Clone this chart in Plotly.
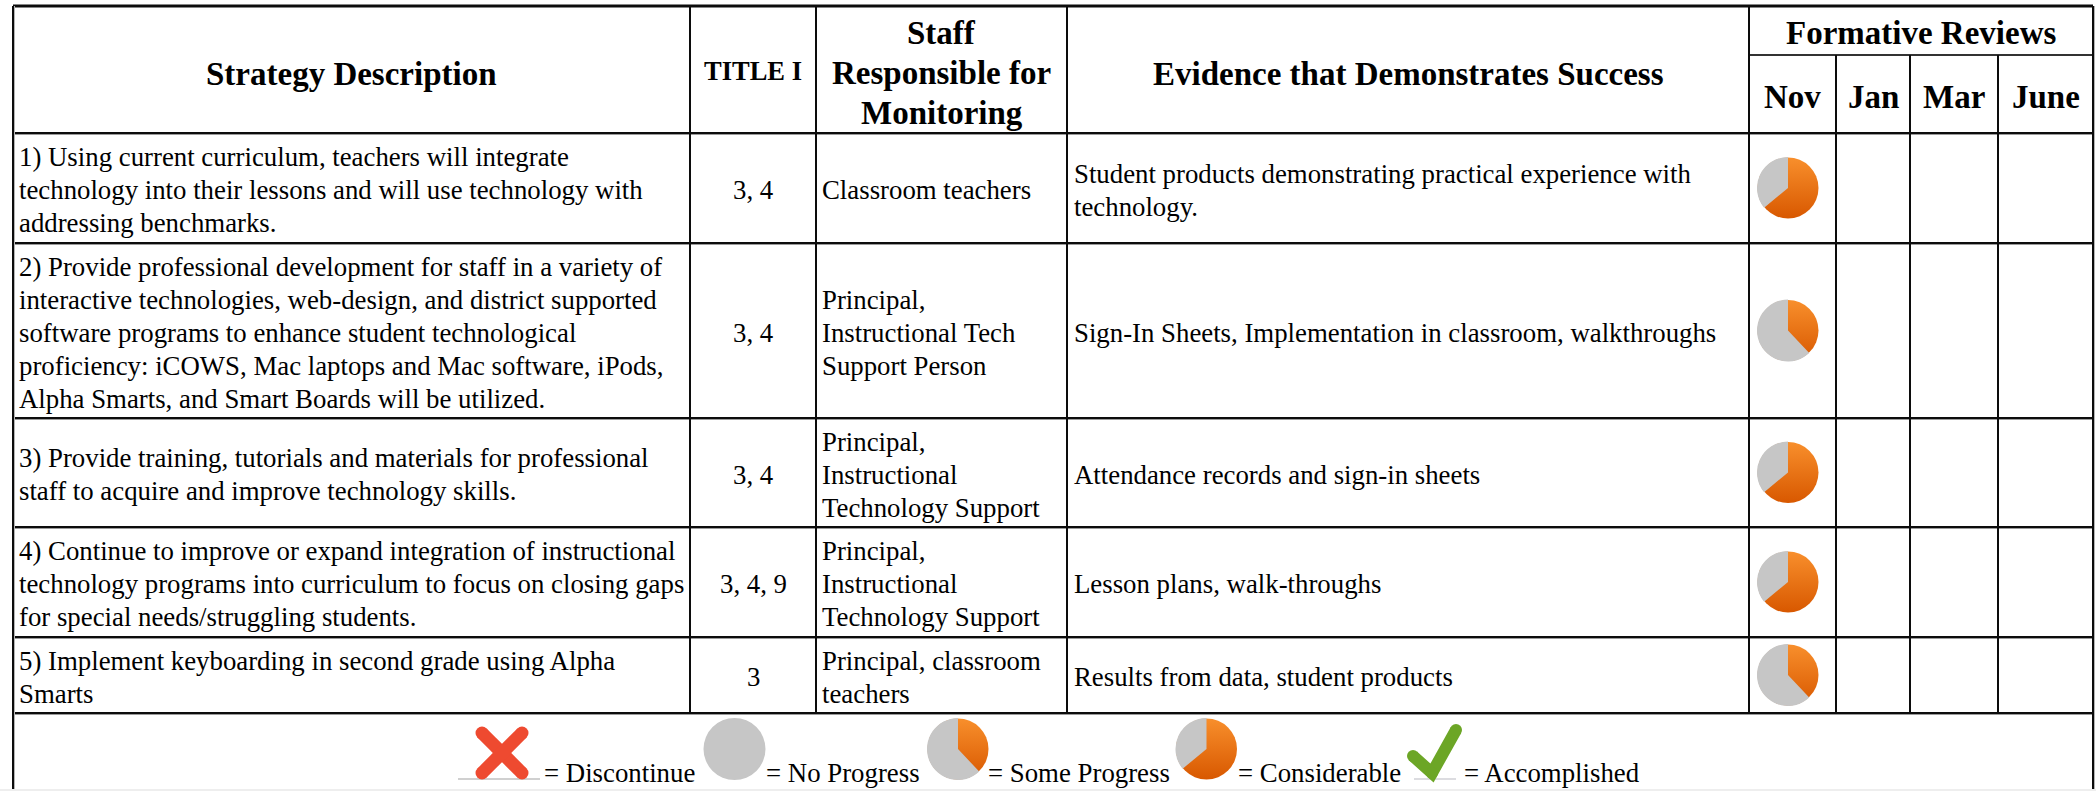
import plotly.graph_objects as go

# ---------- content ----------
header_strategy = "Strategy Description"
header_title = "TITLE I"
header_staff = "Staff<br>Responsible for<br>Monitoring"
header_evidence = "Evidence that Demonstrates Success"
header_reviews = "Formative Reviews"
months = ["Nov", "Jan", "Mar", "June"]

strategies = [
    "1) Using current curriculum, teachers will integrate<br>technology into their lessons and will use technology with<br>addressing benchmarks.",
    "2) Provide professional development for staff in a variety of<br>interactive technologies, web-design, and district supported<br>software programs to enhance student technological<br>proficiency: iCOWS, Mac laptops and Mac software, iPods,<br>Alpha Smarts, and Smart Boards will be utilized.",
    "3) Provide training, tutorials and materials for professional<br>staff to acquire and improve technology skills.",
    "4) Continue to improve or expand integration of instructional<br>technology programs into curriculum to focus on closing gaps<br>for special needs/struggling students.",
    "5) Implement keyboarding in second grade using Alpha<br>Smarts",
]
title_one = ["3, 4", "3, 4", "3, 4", "3, 4, 9", "3"]
staff = [
    "Classroom teachers",
    "Principal,<br>Instructional Tech<br>Support Person",
    "Principal,<br>Instructional<br>Technology Support",
    "Principal,<br>Instructional<br>Technology Support",
    "Principal, classroom<br>teachers",
]
evidence = [
    "Student products demonstrating practical experience with<br>technology.",
    "Sign-In Sheets, Implementation in classroom, walkthroughs",
    "Attendance records and sign-in sheets",
    "Lesson plans, walk-throughs",
    "Results from data, student products",
]
nov_progress = [64, 38, 64, 64, 38]

legend_labels = ["= Discontinue", "= No Progress", "= Some Progress", "= Considerable", "= Accomplished"]
legend_progress = [None, 0, 38, 64, None]

# ---------- page layout (pixels of the 2096x791 page) ----------
W, H = 2096, 791
COLS = [13, 690, 816, 1067, 1749, 1836, 1910, 1998, 2093]
ROWS = [133, 243, 418, 527, 637, 713]
TOP, SUB, BOTTOM = 6, 55, 789
PIE_D = 62
SERIF = "Liberation Serif"
INK = "#000000"
BODY = 26.8
HEAD = 33
BODY_PITCH = 33
HEAD_PITCH = 40
LEGEND_X = [543, 765, 987, 1237, 1463]
LEGEND_PIE_X = [None, 734.5, 958, 1206.5, None]
LEGEND_PIE_Y = 749
LEGEND_TEXT_Y = 773

fig = go.Figure()
shapes, notes = [], []


def line(x0, y0, x1, y1, w=2, c="#0c0c0c"):
    shapes.append(dict(type="line", xref="x", yref="y", x0=x0, y0=y0, x1=x1, y1=y1,
                       line=dict(color=c, width=w), layer="below"))


def note(text, x, y, size=BODY, bold=False, anchor="left", pitch=BODY_PITCH):
    parts = text.split("<br>")
    for k, part in enumerate(parts):
        notes.append(dict(text=f"<b>{part}</b>" if bold else part, x=x,
                          y=y + (k - (len(parts) - 1) / 2) * pitch,
                          xref="x", yref="y", showarrow=False, xanchor=anchor,
                          yanchor="middle", align=anchor, borderpad=0,
                          font=dict(family=SERIF, size=size, color=INK)))


def pie(cx, cy, orange):
    if orange:
        fig.add_trace(go.Scatter(x=[cx], y=[cy], mode="markers", hoverinfo="skip", showlegend=False,
                                 marker=dict(size=PIE_D - 1, color="#f88f2c", line=dict(width=0),
                                             gradient=dict(type="vertical", color="#d85800"))))
    fig.add_trace(go.Pie(values=[orange, 100 - orange], labels=["progress", "remaining"], sort=False,
                         direction="clockwise", rotation=0, textinfo="none", hoverinfo="skip",
                         showlegend=False,
                         marker=dict(colors=["rgba(0,0,0,0)", "#c6c6c6"], line=dict(width=0)),
                         domain=dict(x=[(cx - PIE_D / 2) / W, (cx + PIE_D / 2) / W],
                                     y=[1 - (cy + PIE_D / 2) / H, 1 - (cy - PIE_D / 2) / H])))


# grid
for y in [TOP] + ROWS:
    line(COLS[0], y, COLS[-1], y, 3 if y == TOP else 2)
    if y != TOP:
        line(COLS[0], y + 1.5, COLS[-1], y + 1.5, 1, "#9a9a9a")
line(COLS[4], SUB, COLS[-1], SUB, 2, "#333333")
for x in [COLS[0], COLS[-1]]:
    line(x, TOP, x, BOTTOM, 2)
    line(x + 1.5, TOP, x + 1.5, BOTTOM, 1, "#b5b5b5")
for x in COLS[1:4]:
    line(x, TOP, x, ROWS[-1])
line(COLS[4], TOP, COLS[4], ROWS[-1])
for x in COLS[5:8]:
    line(x, SUB, x, ROWS[-1])
shapes.append(dict(type="rect", xref="x", yref="y", x0=0, x1=W, y0=BOTTOM, y1=H,
                   fillcolor="#eeeeee", line=dict(width=0), layer="below"))

# headers
mid = lambda a, b: (a + b) / 2
note(header_strategy, mid(COLS[0], COLS[1]), 74, HEAD, True, "center")
note(header_title, mid(COLS[1], COLS[2]), 71, 26.5, True, "center")
note(header_staff, mid(COLS[2], COLS[3]), 73, HEAD, True, "center", HEAD_PITCH)
note(header_evidence, mid(COLS[3], COLS[4]), 74, HEAD, True, "center")
note(header_reviews, mid(COLS[4], COLS[-1]), 33, HEAD, True, "center")
for i, m in enumerate(months):
    note(m, mid(COLS[4 + i], COLS[5 + i]), 97, HEAD, True, "center")

# body rows
for i in range(5):
    cy = mid(ROWS[i], ROWS[i + 1])
    note(strategies[i], COLS[0] + 5, cy + 2)
    note(title_one[i], mid(COLS[1], COLS[2]), cy + 2, BODY, False, "center")
    note(staff[i], COLS[2] + 5, cy + 2)
    note(evidence[i], COLS[3] + 6, cy + 2)
    pie(1788, cy, nov_progress[i])

# legend icons
X_C, X_R = (502, 753), 20
for sign in (1, -1):
    fig.add_trace(go.Scatter(x=[X_C[0] - sign * X_R, X_C[0] + sign * X_R], y=[X_C[1] - X_R, X_C[1] + X_R],
                             mode="lines+markers", hoverinfo="skip", showlegend=False,
                             line=dict(color="#ee4a30", width=13),
                             marker=dict(size=13, color="#ee4a30", line=dict(width=0))))
CHECK_X = [1413, 1432, 1456]
CHECK_Y = [756, 773, 730]
fig.add_trace(go.Scatter(x=CHECK_X, y=CHECK_Y, mode="lines+markers", hoverinfo="skip", showlegend=False,
                         line=dict(color="#6ca626", width=12),
                         marker=dict(size=12, color="#6ca626", line=dict(width=0))))
shapes.append(dict(type="rect", xref="x", yref="y", x0=458, x1=540, y0=778, y1=780,
                   fillcolor="#d0d0d0", line=dict(width=0), layer="below"))
shapes.append(dict(type="rect", xref="x", yref="y", x0=1414, x1=1456, y0=778, y1=780,
                   fillcolor="#dcdce0", line=dict(width=0), layer="below"))

for x, label, px, val in zip(LEGEND_X, legend_labels, LEGEND_PIE_X, legend_progress):
    note(label, x, LEGEND_TEXT_Y)
    if px is not None:
        pie(px, LEGEND_PIE_Y, val)

fig.update_layout(
    width=W, height=H, margin=dict(l=0, r=0, t=0, b=0), autosize=False,
    paper_bgcolor="#ffffff", plot_bgcolor="#ffffff", showlegend=False,
    xaxis=dict(range=[0, W], visible=False, fixedrange=True),
    yaxis=dict(range=[H, 0], visible=False, fixedrange=True),
    shapes=shapes, annotations=notes,
)
fig.write_html("out.html", config=dict(displayModeBar=False),
               post_script="document.body.style.margin='0';document.documentElement.style.overflow='hidden';")
